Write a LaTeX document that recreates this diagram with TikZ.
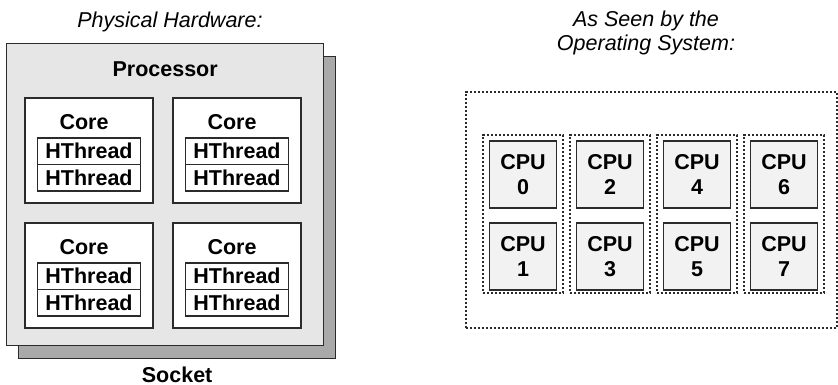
\documentclass[tikz,border=0pt]{standalone}
\usepackage{fontspec}
\setmainfont{Liberation Sans}
\usepackage{xcolor}
\usetikzlibrary{positioning}

\definecolor{edge}{HTML}{2B2B2B}
\definecolor{chipgray}{HTML}{E6E6E6}
\definecolor{shadowgray}{HTML}{A9A9A9}
\definecolor{cpugray}{HTML}{F2F2F2}

\begin{document}
\begin{tikzpicture}[
	x=1pt, y=-1pt,
	node distance=20pt,
	heading/.style={font=\fontsize{21.5}{24}\selectfont\itshape, align=center},
	caption/.style={font=\fontsize{21.5}{25}\selectfont\bfseries, inner sep=3pt},
	sockbox/.style={rectangle, draw=edge, line width=1.3pt, fill=shadowgray, minimum width=317pt, minimum height=302pt, anchor=north west},
	procbox/.style={rectangle, draw=edge, line width=1.3pt, fill=chipgray, minimum width=317pt, minimum height=302pt, anchor=north west},
	corebox/.style={rectangle, draw=edge, line width=1.3pt, fill=white, minimum width=128pt, minimum height=105pt, outer sep=0pt},
	thread/.style={rectangle, draw=edge, line width=1.2pt, fill=white, minimum width=103pt, minimum height=26.5pt, inner sep=0pt, outer sep=0pt, font=\fontsize{21.5}{25}\selectfont\bfseries},
	osbox/.style={rectangle, draw=edge, line width=1.8pt, dash pattern=on 2.4pt off 1.6pt, minimum width=371pt, minimum height=236pt, anchor=north west},
	group/.style={rectangle, draw=edge, line width=1.8pt, dash pattern=on 2.4pt off 1.6pt, minimum width=80pt, minimum height=158pt, outer sep=0pt},
	cpu/.style={rectangle, draw=edge, line width=1.3pt, fill=cpugray, minimum width=67pt, minimum height=67pt, inner sep=0pt, outer sep=0pt, align=center, font=\fontsize{21.5}{25}\selectfont\bfseries}
]
\useasboundingbox (0,0) rectangle (838,385);

% left side: the physical hardware
\node[heading, anchor=base] (hwtitle) at (170,28) {Physical Hardware:};
\node[sockbox] (socket) at (18,56) {};
\node[procbox] (proc) at (6,43) {};
\node[caption, below=16pt of proc.north] (proclabel) {Processor};
\node[caption, below=4pt of socket.south] (socklabel) {Socket};

\node[corebox, anchor=north west] (coreA) at (25,98) {};
\node[corebox, right=of coreA] (coreB) {};
\node[corebox, below=of coreA] (coreC) {};
\node[corebox, right=of coreC] (coreD) {};

\node[caption, below=13pt of coreA.north, xshift=-5pt] (coreAlabel) {Core};
\node[caption, below=13pt of coreB.north, xshift=-5pt] (coreBlabel) {Core};
\node[caption, below=13pt of coreC.north, xshift=-5pt] (coreClabel) {Core};
\node[caption, below=13pt of coreD.north, xshift=-5pt] (coreDlabel) {Core};

\node[thread, below=40pt of coreA.north] (thA1) {HThread};
\node[thread, below=0pt of thA1] (thA2) {HThread};
\node[thread, below=40pt of coreB.north] (thB1) {HThread};
\node[thread, below=0pt of thB1] (thB2) {HThread};
\node[thread, below=40pt of coreC.north] (thC1) {HThread};
\node[thread, below=0pt of thC1] (thC2) {HThread};
\node[thread, below=40pt of coreD.north] (thD1) {HThread};
\node[thread, below=0pt of thD1] (thD2) {HThread};

% right side: what the operating system sees
\node[heading] (ostitle) at (646,32.5) {As Seen by the\\Operating System:};
\node[osbox] (os) at (465,91) {};

\node[group, anchor=north west] (grp0) at (483,135) {};
\node[group, right=7pt of grp0] (grp1) {};
\node[group, right=7pt of grp1] (grp2) {};
\node[group, right=7pt of grp2] (grp3) {};

\node[cpu, below=6pt of grp0.north] (cpu0) {CPU\\0};
\node[cpu, below=15pt of cpu0] (cpu1) {CPU\\1};
\node[cpu, below=6pt of grp1.north] (cpu2) {CPU\\2};
\node[cpu, below=15pt of cpu2] (cpu3) {CPU\\3};
\node[cpu, below=6pt of grp2.north] (cpu4) {CPU\\4};
\node[cpu, below=15pt of cpu4] (cpu5) {CPU\\5};
\node[cpu, below=6pt of grp3.north] (cpu6) {CPU\\6};
\node[cpu, below=15pt of cpu6] (cpu7) {CPU\\7};
\end{tikzpicture}
\end{document}
